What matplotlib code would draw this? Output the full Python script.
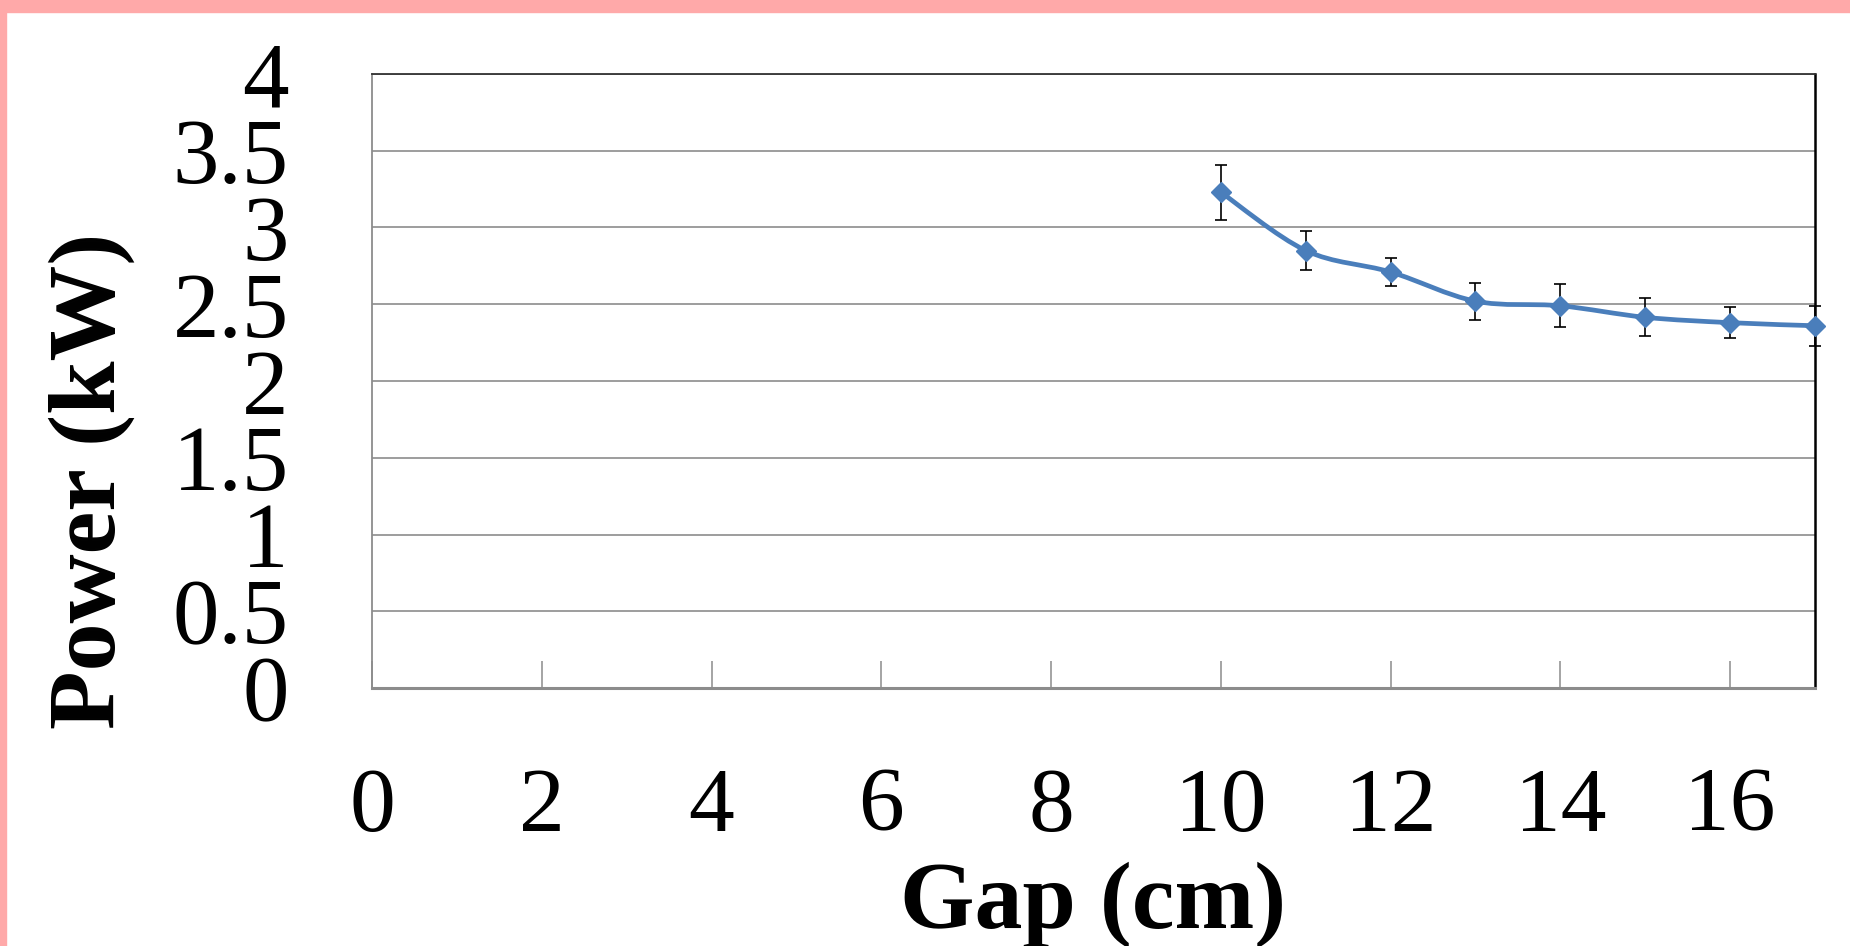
import numpy as np
import matplotlib.pyplot as plt
from matplotlib.path import Path
from matplotlib.patches import PathPatch, Rectangle

# data
gap_cm = [10, 11, 12, 13, 14, 15, 16, 17]
power_kw = [3.23, 2.85, 2.71, 2.52, 2.49, 2.415, 2.38, 2.36]
power_err = [0.18, 0.13, 0.09, 0.12, 0.14, 0.125, 0.10, 0.13]
x_ticks = [0, 2, 4, 6, 8, 10, 12, 14, 16]
y_ticks = [0, 0.5, 1, 1.5, 2, 2.5, 3, 3.5, 4]

blue = "#4a7ebb"
grey = "#8c8c8c"

plt.rcParams["font.family"] = ["Liberation Serif", "DejaVu Serif"]

fig = plt.figure(figsize=(18.5, 9.46), dpi=100)
ax = fig.add_axes([372 / 1850, 1 - 688 / 946, 1443 / 1850, 614 / 946])

# pink frame on top and left edge
fig.add_artist(Rectangle((0, 1 - 12 / 946), 1, 12 / 946, transform=fig.transFigure,
                         color="#ffa9a9", zorder=0))
fig.add_artist(Rectangle((0, 0), 6 / 1850, 1, transform=fig.transFigure,
                         color="#ffa9a9", zorder=0))

# smoothed line (catmull-rom -> bezier, like excel's smooth line)
pts = np.column_stack([gap_cm, power_kw])
verts = [pts[0]]
codes = [Path.MOVETO]
n = len(pts)
for i in range(n - 1):
    p0 = pts[max(i - 1, 0)]
    p1 = pts[i]
    p2 = pts[i + 1]
    p3 = pts[min(i + 2, n - 1)]
    c1 = p1 + (p2 - p0) / 6
    c2 = p2 - (p3 - p1) / 6
    verts += [c1, c2, p2]
    codes += [Path.CURVE4] * 3
curve = PathPatch(Path(verts, codes), facecolor="none", edgecolor=blue,
                  lw=3.4, capstyle="round", joinstyle="round", zorder=3, clip_on=False)
ax.add_patch(curve)

ax.errorbar(gap_cm, power_kw, yerr=power_err, fmt="D", color=blue, ms=10,
            mec=blue, ecolor="black", elinewidth=1.2, capsize=4.3, capthick=1.2,
            zorder=4, clip_on=False)

ax.set_xlim(0, 17)
ax.set_ylim(0, 4)
ax.set_xticks(x_ticks)
ax.set_yticks(y_ticks)
ax.set_yticklabels(["0", "0.5", "1", "1.5", "2", "2.5", "3", "3.5", "4"])

ax.grid(axis="y", color=grey, lw=1.2)
ax.set_axisbelow(True)
ax.tick_params(axis="x", direction="in", length=19.5, width=1.1, color=grey,
               pad=57, labelsize=66)
ax.tick_params(axis="y", length=0, pad=60, labelsize=67)

ax.spines["left"].set_color(grey)
ax.spines["left"].set_linewidth(1.3)
ax.spines["bottom"].set_color(grey)
ax.spines["bottom"].set_linewidth(2.2)
ax.spines["top"].set_color("#333333")
ax.spines["top"].set_linewidth(1.3)
ax.spines["right"].set_color("black")
ax.spines["right"].set_linewidth(1.8)

ax.set_xlabel("Gap (cm)", fontsize=69, fontweight="bold", va="baseline")
ax.xaxis.set_label_coords(0.5, (688 - 928) / 614)
ax.set_ylabel("Power (kW)", fontsize=69, fontweight="bold", va="baseline")
ax.yaxis.set_label_coords((115 - 372) / 1443, (688 - 481) / 614)

fig.savefig("out.png", dpi=100)
